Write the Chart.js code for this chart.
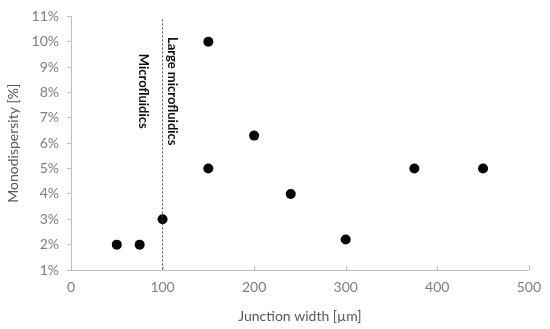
<!DOCTYPE html>
<html>
<head>
<meta charset="utf-8">
<script src="https://cdn.jsdelivr.net/npm/chart.js@4"></script>
<style>
  html, body { margin: 0; padding: 0; background: #fff; }
  #wrap { width: 550px; height: 329px; }
</style>
</head>
<body>
<div id="wrap"><canvas id="chart"></canvas></div>
<script>
// junction width [µm] vs monodispersity [%]
const junctionWidth = [50, 75, 100, 150, 150, 200, 240, 300, 375, 450];
const monodispersity = [2, 2, 3, 10, 5, 6.3, 4, 2.2, 5, 5];
const xTicks = [0, 100, 200, 300, 400, 500];
const yTicks = [1, 2, 3, 4, 5, 6, 7, 8, 9, 10, 11];
const boundaryX = 100;
const regionLabels = ["Microfluidics", "Large microfluidics"];

const FONT = "Lato, 'Open Sans', sans-serif";

// dotted boundary line, inner x ticks and the rotated region labels
const boundaryPlugin = {
  id: "boundary",
  afterDatasetsDraw(chart) {
    const { ctx, chartArea, scales } = chart;
    const x = scales.x.getPixelForValue(boundaryX);
    ctx.save();
    ctx.strokeStyle = "#404040";
    ctx.lineWidth = 1;
    ctx.setLineDash([2, 2]);
    ctx.beginPath();
    ctx.moveTo(x, chartArea.top + 3);
    ctx.lineTo(x, chartArea.bottom);
    ctx.stroke();
    ctx.setLineDash([]);

    // x tick marks point up into the plot
    ctx.strokeStyle = "#bfbfbf";
    xTicks.forEach((v) => {
      const px = Math.round(scales.x.getPixelForValue(v)) + 0.5;
      ctx.beginPath();
      ctx.moveTo(px, chartArea.bottom);
      ctx.lineTo(px, chartArea.bottom - 4);
      ctx.stroke();
    });

    const yMid = scales.y.getPixelForValue(8.05);
    ctx.fillStyle = "#111";
    ctx.font = "bold 13px " + FONT;
    ctx.textAlign = "center";
    ctx.textBaseline = "middle";
    [[x - 19, regionLabels[0]], [x + 10, regionLabels[1]]].forEach(([px, text]) => {
      ctx.save();
      ctx.translate(px, yMid);
      ctx.rotate(Math.PI / 2);
      ctx.fillText(text, 0, 0);
      ctx.restore();
    });
    ctx.restore();
  },
};

new Chart(document.getElementById("chart"), {
  type: "scatter",
  data: {
    datasets: [
      {
        data: junctionWidth.map((w, i) => ({ x: w, y: monodispersity[i] })),
        backgroundColor: "#000",
        borderColor: "#000",
        borderWidth: 0,
        pointRadius: 5,
        pointHoverRadius: 5,
      },
    ],
  },
  options: {
    responsive: true,
    maintainAspectRatio: false,
    animation: false,
    layout: { padding: { top: 16, right: 21, left: 0, bottom: 0 } },
    plugins: {
      legend: { display: false },
      tooltip: { enabled: false },
    },
    scales: {
      x: {
        type: "linear",
        min: 0,
        max: 500,
        afterBuildTicks: (axis) => {
          axis.ticks = xTicks.map((v) => ({ value: v }));
        },
        afterFit: (axis) => {
          axis.height = 59;
        },
        grid: { display: true, drawOnChartArea: false, drawTicks: false },
        border: { color: "#bfbfbf" },
        ticks: {
          padding: 9,
          color: "#7f7f7f",
          font: { family: FONT, size: 14 },
        },
        title: {
          display: true,
          text: "Junction width [µm]",
          color: "#595959",
          font: { family: FONT, size: 14 },
          padding: { top: 1 },
        },
      },
      y: {
        type: "linear",
        min: 1,
        max: 11,
        afterBuildTicks: (axis) => {
          axis.ticks = yTicks.map((v) => ({ value: v }));
        },
        afterFit: (axis) => {
          axis.width = 71;
        },
        grid: { display: true, drawOnChartArea: false, tickLength: 4, color: "#bfbfbf" },
        border: { color: "#bfbfbf" },
        ticks: {
          padding: 8,
          color: "#7f7f7f",
          font: { family: FONT, size: 14 },
          callback: (v) => v + "%",
        },
        title: {
          display: true,
          text: "Monodispersity [%]",
          color: "#595959",
          font: { family: FONT, size: 14 },
          padding: { top: 5, bottom: 2 },
        },
      },
    },
  },
  plugins: [boundaryPlugin],
});
</script>
</body>
</html>
